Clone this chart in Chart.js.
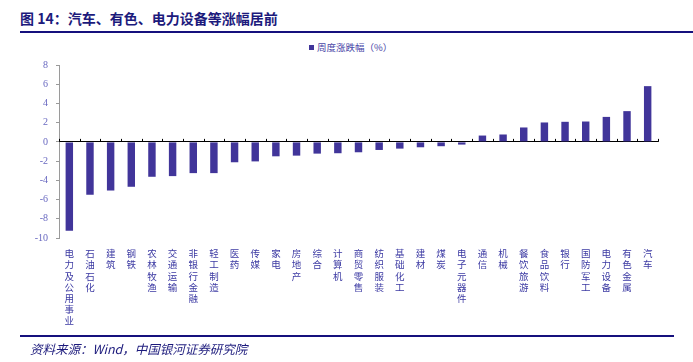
<!DOCTYPE html>
<html lang="zh">
<head>
<meta charset="UTF-8">
<title>图 14</title>
<script src="https://cdn.jsdelivr.net/npm/chart.js"></script>
<style>
    body { margin: 0; background: #fff; }
    .page { position: relative; width: 693px; height: 362px; overflow: hidden; font-family: "Noto Sans CJK SC", sans-serif; }
    .title { position: absolute; left: 20px; top: 8px; font-size: 14px; font-weight: bold; color: #1c1a7c; white-space: nowrap; }
    .rule-top { position: absolute; left: 20px; right: 0; top: 31px; height: 2px; background: #15107d; }
    .rule-bottom { position: absolute; left: 20px; width: 654px; top: 335px; height: 2px; background: #15107d; }
    .source { position: absolute; left: 30px; top: 339px; font-size: 12.5px; font-style: italic; color: #1c1a7c; white-space: nowrap; }
    .legend { position: absolute; left: 309px; top: 40px; font-size: 9.5px; color: #4a48a8; white-space: nowrap; }
    .legend span { display: inline-block; width: 5px; height: 5px; background: #41359a; margin-right: 3px; vertical-align: 1px; }
    canvas { position: absolute; left: 0; top: 0; }
</style>
</head>
<body>
<div class="page">
    <div class="title">图 14：汽车、有色、电力设备等涨幅居前</div>
    <div class="rule-top"></div>
    <div class="legend"><span></span>周度涨跌幅（%）</div>
    <canvas id="chart" width="693" height="362"></canvas>
    <div class="rule-bottom"></div>
    <div class="source">资料来源：Wind，中国银河证券研究院</div>
</div>
<script>
    // 行业分类
    const categories = ['电力及公用事业', '石油石化', '建筑', '钢铁', '农林牧渔', '交通运输', '非银行金融', '轻工制造',
        '医药', '传媒', '家电', '房地产', '综合', '计算机', '商贸零售', '纺织服装', '基础化工', '建材', '煤炭',
        '电子元器件', '通信', '机械', '餐饮旅游', '食品饮料', '银行', '国防军工', '电力设备', '有色金属', '汽车'];
    // 周度涨跌幅 (%)
    const weeklyChange = [-9.25, -5.5, -5.06, -4.67, -3.63, -3.56, -3.25, -3.25, -2.12, -2.03, -1.5, -1.43, -1.22,
        -1.18, -1.08, -0.84, -0.7, -0.56, -0.45, -0.28, 0.66, 0.77, 1.5, 2.02, 2.09, 2.12, 2.6, 3.2, 5.8];
    const yTicks = { min: -10, max: 8, step: 2 };

    // small tick marks standing on the zero line between categories
    const zeroTicks = {
        id: 'zeroTicks',
        afterDatasetsDraw(chart) {
            const x = chart.scales.x, y = chart.scales.y;
            const y0 = y.getPixelForValue(0);
            const ctx = chart.ctx;
            ctx.save();
            ctx.strokeStyle = '#000';
            ctx.lineWidth = 1;
            ctx.beginPath();
            for (let i = 0; i <= categories.length; i++) {
                const px = Math.round(x.getPixelForValue(i - 0.5)) + 0.5;
                ctx.moveTo(px, y0);
                ctx.lineTo(px, y0 - 3);
            }
            ctx.stroke();
            ctx.restore();
        }
    };

    new Chart(document.getElementById('chart'), {
        type: 'bar',
        data: {
            labels: categories.map(c => c.split('')),
            datasets: [{
                label: '周度涨跌幅（%）',
                data: weeklyChange,
                backgroundColor: '#41359a',
                borderWidth: 0,
                barPercentage: 0.36,
                categoryPercentage: 1
            }]
        },
        options: {
            responsive: false,
            animation: false,
            devicePixelRatio: 1,
            layout: { padding: { top: 65, right: 35, left: 0, bottom: 0 } },
            plugins: { legend: { display: false }, tooltip: { enabled: false } },
            scales: {
                x: {
                    grid: { display: false },
                    border: { display: false },
                    afterFit(scale) { scale.height = 124; },
                    ticks: {
                        autoSkip: false, maxRotation: 0, minRotation: 0, padding: 2,
                        color: '#3b39a2',
                        font: { family: '"Noto Sans CJK SC"', size: 9.5, lineHeight: 1.18 }
                    }
                },
                y: {
                    min: yTicks.min,
                    max: yTicks.max,
                    afterFit(scale) { scale.width = 59; },
                    border: { color: '#9a9a9a' },
                    grid: {
                        color: ctx => ctx.tick && ctx.tick.value === 0 ? '#000' : 'rgba(0,0,0,0)',
                        tickColor: '#9a9a9a',
                        tickLength: 3
                    },
                    ticks: {
                        stepSize: yTicks.step, padding: 8,
                        color: '#6868c0',
                        font: { family: '"Liberation Serif", serif', size: 10 }
                    }
                }
            }
        },
        plugins: [zeroTicks]
    });
</script>
</body>
</html>
